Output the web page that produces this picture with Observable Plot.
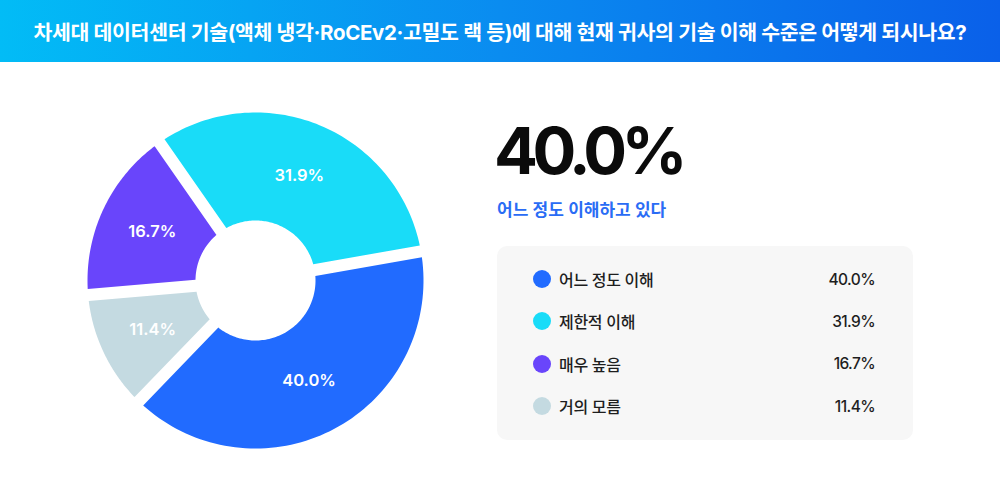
<!DOCTYPE html>
<html><head><meta charset="utf-8">
<script src="https://cdn.jsdelivr.net/npm/d3@7"></script>
<script src="https://cdn.jsdelivr.net/npm/@observablehq/plot@0.6"></script>
<style>
html,body{margin:0;padding:0;background:#fff;}
body{width:1000px;height:500px;overflow:hidden;font-family:Inter,"Noto Sans CJK KR",sans-serif;}
#header{height:62px;background:linear-gradient(90deg,#02bcf6 0%,#0a8cf0 50%,#0a60e9 100%);color:#fff;font-weight:700;font-size:20.5px;letter-spacing:-0.35px;display:flex;align-items:center;justify-content:center;white-space:nowrap;}
#main{position:relative;height:438px;}
#chart{position:absolute;left:0;top:0;}
#big{position:absolute;left:494px;top:56px;font-size:65px;line-height:65px;font-weight:700;letter-spacing:-5.5px;color:#0b0b0b;}
#sub{position:absolute;left:497px;top:137px;font-size:17px;line-height:22px;font-weight:600;letter-spacing:0px;color:#2a6cf5;}
#legend{position:absolute;left:497px;top:184px;width:416px;height:194px;background:#f7f7f7;border-radius:10px;box-sizing:border-box;padding:12px 38px 0 36px;}
.row{height:42.3px;display:flex;align-items:center;font-size:16px;color:#1e1e1e;font-weight:500;}
.dot{width:18px;height:18px;border-radius:50%;margin-right:8px;flex:none;}
.lab{flex:1;letter-spacing:-0.3px;}
.val{letter-spacing:-0.6px;font-size:15.5px;}
</style></head>
<body>
<div id="header"></div>
<div id="main">
  <div id="chart"></div>
  <div id="big"></div>
  <div id="sub"></div>
  <div id="legend"></div>
</div>
<script>
const title = "차세대 데이터센터 기술(액체 냉각·RoCEv2·고밀도 랙 등)에 대해 현재 귀사의 기술 이해 수준은 어떻게 되시나요?";
const categories = ["어느 정도 이해", "제한적 이해", "매우 높음", "거의 모름"];
const values = [40.0, 31.9, 16.7, 11.4];
const colors = ["#216bff", "#19dcf8", "#6945fb", "#c4dae1"];
const headline = "어느 정도 이해하고 있다";

document.getElementById("header").textContent = title;

const data = categories.map((c, i) => ({category: c, value: values[i]}));
const fmt = v => v.toFixed(1) + "%";

// geometry
const R = 168, r0 = 60, h = 6;
const start = 224 * Math.PI / 180;
const pie = d3.pie().value(d => d.value).sort(null).startAngle(start).endAngle(start - 2 * Math.PI);
const arcs = pie(data);

const pts = [];
const labels = [];
for (const a of arcs) {
  const a0 = Math.min(a.startAngle, a.endAngle), a1 = Math.max(a.startAngle, a.endAngle);
  const oa0 = a0 + Math.asin(h / R), oa1 = a1 - Math.asin(h / R);
  const ia0 = a0 + Math.asin(h / r0), ia1 = a1 - Math.asin(h / r0);
  const N = 80;
  for (let k = 0; k <= N; k++) {
    const t = oa0 + (oa1 - oa0) * k / N;
    pts.push({category: a.data.category, x: R * Math.sin(t), y: -R * Math.cos(t)});
  }
  for (let k = 0; k <= N; k++) {
    const t = ia1 + (ia0 - ia1) * k / N;
    pts.push({category: a.data.category, x: r0 * Math.sin(t), y: -r0 * Math.cos(t)});
  }
  const m = (a0 + a1) / 2, rm = (R + r0) / 2;
  labels.push({x: rm * Math.sin(m), y: -rm * Math.cos(m), text: fmt(a.data.value)});
}

const plot = Plot.plot({
  width: 480, height: 438, margin: 0,
  x: {domain: [-255, 225], axis: null},
  y: {domain: [-218, 220], range: [0, 438], axis: null},
  color: {domain: categories, range: colors},
  style: {fontFamily: "Inter, 'Noto Sans CJK KR', sans-serif", background: "transparent"},
  marks: [
    Plot.line(pts, {x: "x", y: "y", z: "category", fill: "category", stroke: "none", curve: "linear-closed"}),
    Plot.text(labels, {x: "x", y: "y", text: "text", fill: "white", fontSize: 16.5, fontWeight: 600, letterSpacing: "-0.5px"})
  ]
});
document.getElementById("chart").appendChild(plot);

// headline
const maxIdx = values.indexOf(d3.max(values));
document.getElementById("big").textContent = fmt(values[maxIdx]);
document.getElementById("sub").textContent = headline;

// legend
const lg = document.getElementById("legend");
categories.forEach((c, i) => {
  const row = document.createElement("div");
  row.className = "row";
  row.innerHTML = `<span class="dot" style="background:${colors[i]}"></span><span class="lab">${c}</span><span class="val">${fmt(values[i])}</span>`;
  lg.appendChild(row);
});
</script>
</body></html>
